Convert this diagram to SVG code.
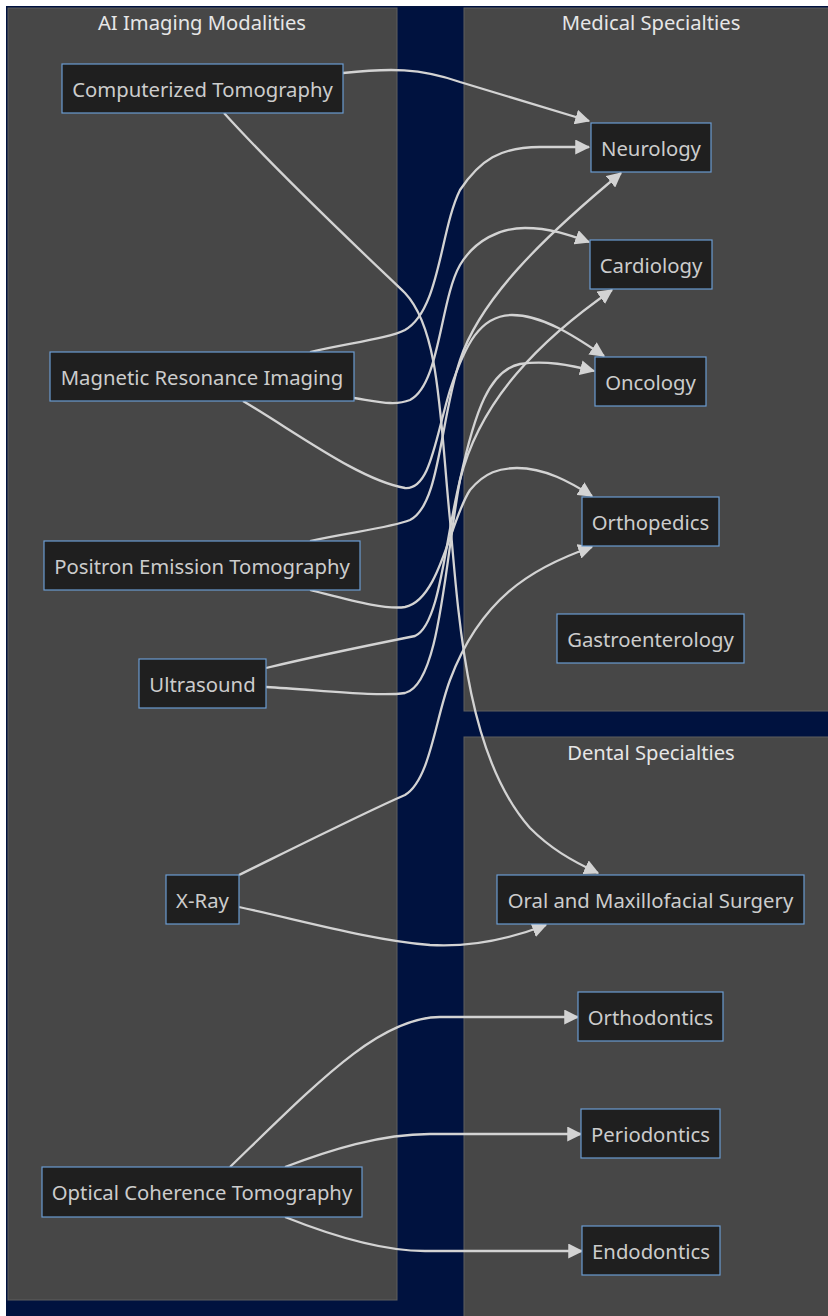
<svg xmlns="http://www.w3.org/2000/svg" width="828" height="1316" viewBox="0 0 828 1316">
<defs>
<style>
.cl{fill:#474747;stroke:#5f5f5f;stroke-width:1}
.ct{font-family:"Noto Sans","Open Sans",sans-serif;font-size:20.2px;fill:#e6e6e6;text-anchor:middle;dominant-baseline:central}
.nd rect{fill:#1f1f1f;stroke:#6a9bd1;stroke-width:1.2}
.nd text{font-family:"Noto Sans","Open Sans",sans-serif;font-size:20.3px;fill:#cccccc;text-anchor:middle;dominant-baseline:central}
.ed path{fill:none;stroke:#d3d3d3;stroke-width:2.3;marker-end:url(#ah)}
</style>
<marker id="ah" viewBox="0 0 12 12" refX="11" refY="6" markerWidth="15" markerHeight="15" markerUnits="userSpaceOnUse" orient="auto">
<path d="M0,0 L12,6 L0,12 z" fill="#d3d3d3"/>
</marker>
</defs>
<rect x="0" y="0" width="828" height="1316" fill="#ffffff"/>
<rect x="6" y="6" width="822" height="1310" fill="#00123f"/>
<g id="cluster-ai">
<rect class="cl" x="8" y="8" width="389" height="1292"/>
<text class="ct" x="202" y="22">AI Imaging Modalities</text>
</g>
<g id="cluster-medical">
<rect class="cl" x="464" y="8" width="380" height="703"/>
<text class="ct" x="651" y="22">Medical Specialties</text>
</g>
<g id="cluster-dental">
<rect class="cl" x="464" y="737" width="380" height="600"/>
<text class="ct" x="651" y="752">Dental Specialties</text>
</g>
<g class="ed" id="connectors">
<path d="M343,73 C390,68 420,68 460,82 L589,121"/>
<path d="M224,113 C280,175 360,250 405,293 C440,330 440,420 450,520 C460,640 470,760 530,828 C550,848 570,860 598,873"/>
<path d="M310,352 C350,343 390,338 405,330 C440,310 440,230 460,190 C480,160 500,147 540,147 L589,147"/>
<path d="M354,398 C380,402 395,406 410,400 C440,385 440,300 460,265 C475,240 500,228 525,228 C550,228 570,235 589,242"/>
<path d="M243,401 C300,435 360,480 405,488 C430,490 435,440 450,390 C465,345 480,315 512,315 C545,315 580,340 604,356"/>
<path d="M310,541 C350,532 390,528 410,520 C440,505 440,420 460,360 C480,300 540,240 621,173"/>
<path d="M310,590 C350,600 385,610 405,607 C440,600 450,520 470,490 C485,472 500,468 517,468 C545,468 570,482 592,496"/>
<path d="M266,668 C320,655 380,643 415,636 C440,625 445,540 460,480 C480,400 540,340 612,290"/>
<path d="M266,687 C320,690 380,697 405,693 C440,685 445,560 460,480 C475,410 490,370 520,364 C545,360 570,365 594,371"/>
<path d="M239,875 C300,845 370,810 405,795 C430,780 435,720 450,680 C480,600 530,568 592,547"/>
<path d="M239,907 C300,920 370,940 430,945 C480,948 520,935 546,925"/>
<path d="M230,1167 C320,1080 380,1017 440,1017 L578,1017"/>
<path d="M285,1167 C330,1150 380,1134 430,1134 L581,1134"/>
<path d="M285,1217 C330,1235 380,1251 425,1251 L582,1251"/>
</g>
<g class="nd" id="n-ct"><rect x="62" y="64" width="281" height="49"/><text x="202.5" y="88.5">Computerized Tomography</text></g>
<g class="nd" id="n-mri"><rect x="50" y="352" width="304" height="49"/><text x="202" y="376.5">Magnetic Resonance Imaging</text></g>
<g class="nd" id="n-pet"><rect x="44" y="541" width="316" height="49"/><text x="202" y="565.5">Positron Emission Tomography</text></g>
<g class="nd" id="n-us"><rect x="139" y="659" width="127" height="49"/><text x="202.5" y="683.5">Ultrasound</text></g>
<g class="nd" id="n-xray"><rect x="166" y="875" width="73" height="49"/><text x="202.5" y="899.5">X-Ray</text></g>
<g class="nd" id="n-oct"><rect x="42" y="1167" width="320" height="50"/><text x="202" y="1191.5">Optical Coherence Tomography</text></g>
<g class="nd" id="n-neuro"><rect x="591" y="123" width="120" height="49"/><text x="651" y="147.5">Neurology</text></g>
<g class="nd" id="n-cardio"><rect x="590" y="240" width="122" height="49"/><text x="651" y="264.5">Cardiology</text></g>
<g class="nd" id="n-onco"><rect x="595" y="357" width="111" height="49"/><text x="650.5" y="381.5">Oncology</text></g>
<g class="nd" id="n-ortho"><rect x="582" y="497" width="137" height="49"/><text x="650.5" y="521.5">Orthopedics</text></g>
<g class="nd" id="n-gastro"><rect x="557" y="614" width="187" height="49"/><text x="650.5" y="638.5">Gastroenterology</text></g>
<g class="nd" id="n-omfs"><rect x="497" y="875" width="307" height="49"/><text x="650.5" y="899.5">Oral and Maxillofacial Surgery</text></g>
<g class="nd" id="n-orthod"><rect x="578" y="992" width="145" height="49"/><text x="650.5" y="1016.5">Orthodontics</text></g>
<g class="nd" id="n-perio"><rect x="581" y="1109" width="139" height="49"/><text x="650.5" y="1133.5">Periodontics</text></g>
<g class="nd" id="n-endo"><rect x="582" y="1226" width="138" height="49"/><text x="651" y="1250.5">Endodontics</text></g>
</svg>
